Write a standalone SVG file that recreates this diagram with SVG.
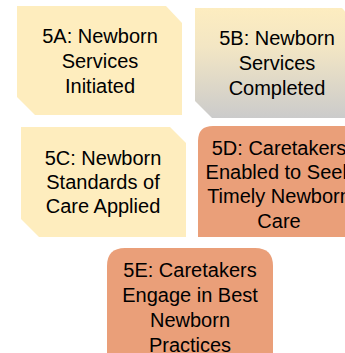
<svg xmlns="http://www.w3.org/2000/svg" width="345" height="353" viewBox="0 0 345 353">
<defs>
<linearGradient id="gB" x1="0" y1="0" x2="0" y2="1">
<stop offset="0" stop-color="#FDEDC0"/>
<stop offset="0.35" stop-color="#F3E6C4"/>
<stop offset="1" stop-color="#CBCBCB"/>
</linearGradient>
<style>
.y{fill:#FEEDBE}
.o{fill:#EA9F79}
text{font-family:"Liberation Sans",Arial,sans-serif;font-size:20px;fill:#000;text-anchor:middle}
</style>
</defs>
<g id="connectors"/>
<g id="n5A">
<path class="y" d="M17,6 H166 L182,23 V115 H35 L17,97 Z"/>
<text x="100" y="43">5A: Newborn</text>
<text x="100" y="68">Services</text>
<text x="100" y="93">Initiated</text>
</g>
<g id="n5B">
<path fill="url(#gB)" d="M195,8 H342 L358,25 V118 H212 L195,101 Z"/>
<text x="277" y="45">5B: Newborn</text>
<text x="277" y="70">Services</text>
<text x="277" y="95">Completed</text>
</g>
<g id="n5C">
<path class="y" d="M21,127 H170 L186,143 V237 H39 L21,219 Z"/>
<text x="103" y="165">5C: Newborn</text>
<text x="103" y="189">Standards of</text>
<text x="103" y="213">Care Applied</text>
</g>
<g id="n5D">
<path class="o" d="M198,237 V141 Q198,126 213,126 H345 V237 Z"/>
<text x="279" y="155">5D: Caretakers</text>
<text x="279" y="179">Enabled to Seek</text>
<text x="279" y="203">Timely Newborn</text>
<text x="279" y="228">Care</text>
</g>
<g id="n5E">
<path class="o" d="M107,353 V266 Q107,248 125,248 H255 Q273,248 273,266 V353 Z"/>
<text x="190" y="277">5E: Caretakers</text>
<text x="190" y="302">Engage in Best</text>
<text x="190" y="327">Newborn</text>
<text x="190" y="352">Practices</text>
</g>
</svg>
